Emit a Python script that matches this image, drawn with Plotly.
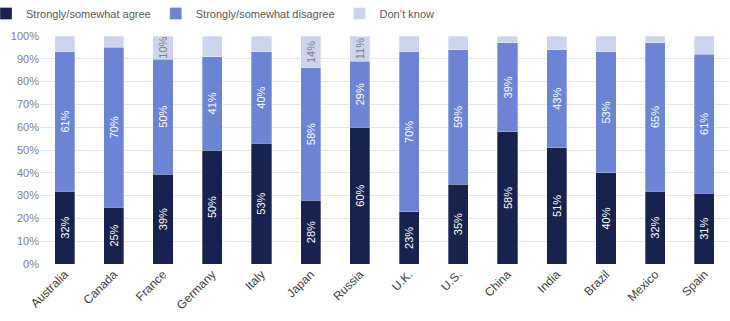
import plotly.graph_objects as go

countries = ["Australia", "Canada", "France", "Germany", "Italy", "Japan", "Russia",
             "U.K.", "U.S.", "China", "India", "Brazil", "Mexico", "Spain"]
agree = [32, 25, 39, 50, 53, 28, 60, 23, 35, 58, 51, 40, 32, 31]
disagree = [61, 70, 50, 41, 40, 58, 29, 70, 59, 39, 43, 53, 65, 61]
dont_know = [7, 5, 10, 9, 7, 14, 11, 7, 6, 3, 6, 7, 3, 8]
dk_labelled = ["France", "Japan", "Russia"]

series_names = ["Strongly/somewhat agree", "Strongly/somewhat disagree", "Don\u2019t know"]
colors = ["#18224f", "#6b84d3", "#cdd4ee"]
text_colors = ["#ffffff", "#ffffff", "#808080"]

FONT = "Liberation Sans, Arial, sans-serif"
W, H = 730, 321
ML, MR, MT, MB = 40, 1, 36, 57

fig = go.Figure()
for name, vals, col, tcol in zip(series_names, [agree, disagree, dont_know], colors, text_colors):
    if name == series_names[2]:
        txt = [f"{v}%" if c in dk_labelled else "" for c, v in zip(countries, vals)]
    else:
        txt = [f"{v}%" for v in vals]
    fig.add_trace(go.Bar(
        name=name, x=countries, y=vals, text=txt,
        marker=dict(color=col, line=dict(color="rgba(255,255,255,0.6)", width=0.5)),
        textposition="inside", textangle=-90, insidetextanchor="middle",
        textfont=dict(color=tcol, size=11, family=FONT),
        constraintext="none",
    ))

fig.update_layout(
    barmode="stack",
    barnorm="percent",
    bargap=0.59,
    width=W, height=H,
    margin=dict(l=ML, r=MR, t=MT, b=MB, autoexpand=False),
    paper_bgcolor="white", plot_bgcolor="white",
    font=dict(family=FONT, color="#595959", size=12),
    legend=dict(orientation="h", xref="paper", yref="paper",
                x=(-ML - 14) / (W - ML - MR), y=1 + (MT + 1) / (H - MT - MB),
                xanchor="left", yanchor="top", font=dict(size=11, color="#595959", family=FONT),
                traceorder="normal"),
)
fig.update_yaxes(range=[0, 100], dtick=10, ticksuffix="%", showgrid=True,
                 gridcolor="#e6e6e6", gridwidth=1, zeroline=False,
                 tickfont=dict(size=11, color="#7f7f7f"), fixedrange=True)
fig.update_xaxes(tickangle=-45, tickfont=dict(size=12, color="#404040"), showline=False)

fig.write_html("out.html", config={"displayModeBar": False},
               post_script="document.body.style.margin='0';document.body.style.padding='0';")
